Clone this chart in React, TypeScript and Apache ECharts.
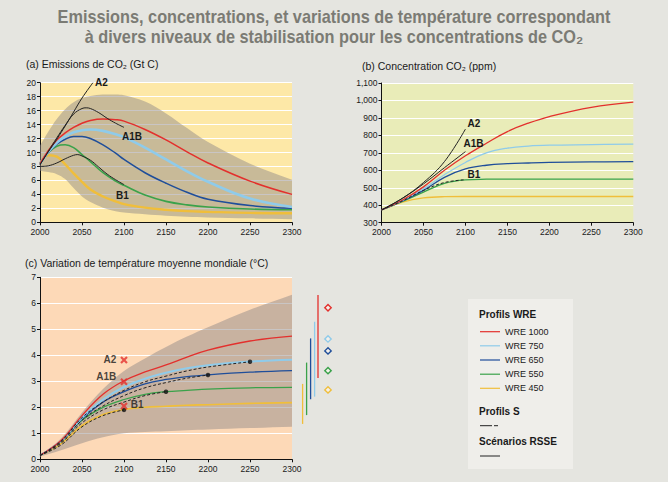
import React, { useEffect, useRef } from "react";
import * as echarts from "echarts";

// ---------- shared ----------
const wreNames = ["WRE 1000", "WRE 750", "WRE 650", "WRE 550", "WRE 450"];
const wreColors = ["#e3302d", "#8fcbea", "#1f4e9a", "#3aa24a", "#f0be3a"];

// ---------- (a) Emissions de CO2 (Gt C) ----------
const yearsA = [2000, 2010, 2020, 2030, 2040, 2050, 2060, 2075, 2090, 2100, 2125, 2150, 2175, 2200, 2250, 2300];
const emisWre1000 = [8.4, 10.3, 11.8, 12.8, 13.6, 14.2, 14.6, 14.8, 14.7, 14.5, 13.3, 11.8, 10.1, 8.5, 5.9, 4.0];
const emisWre750 = [8.4, 10.1, 11.4, 12.3, 12.9, 13.2, 13.3, 13.1, 12.6, 12.2, 10.7, 9.0, 7.3, 5.8, 3.4, 2.2];
const emisWre650 = [8.4, 10.0, 11.2, 11.9, 12.3, 12.3, 12.0, 11.1, 9.9, 9.0, 7.1, 5.6, 4.3, 3.3, 2.4, 2.0];
const emisWre550 = [8.4, 10.0, 10.9, 11.1, 10.7, 9.7, 8.7, 7.1, 5.9, 5.3, 3.9, 3.0, 2.5, 2.2, 1.9, 1.8];
const emisWre450 = [8.4, 9.6, 9.4, 8.3, 7.0, 5.8, 4.7, 3.7, 3.0, 2.6, 2.1, 1.8, 1.6, 1.5, 1.35, 1.3];
const emisUpper = [11.0, 13.0, 14.8, 16.2, 17.2, 17.8, 18.1, 18.3, 18.3, 18.2, 17.3, 15.6, 13.5, 11.5, 8.4, 6.1];
const emisLower = [7.4, 7.2, 6.9, 6.2, 4.9, 3.7, 2.9, 2.1, 1.6, 1.4, 1.15, 0.95, 0.8, 0.7, 0.57, 0.45];

const emisA2Years = [2000, 2010, 2020, 2030, 2040, 2050, 2063];
const emisA2 = [8.3, 10.1, 11.9, 13.8, 15.8, 17.8, 20.0];
const emisA1BYears = [2000, 2010, 2020, 2030, 2040, 2050, 2055, 2060, 2070, 2080, 2090, 2100];
const emisA1B = [8.2, 10.2, 12.1, 13.9, 15.5, 16.3, 16.4, 16.3, 15.7, 14.9, 14.2, 13.6];
const emisB1Years = [2000, 2010, 2020, 2030, 2040, 2045, 2050, 2060, 2070, 2080, 2090, 2100];
const emisB1 = [8.0, 8.1, 8.5, 9.1, 9.6, 9.7, 9.5, 8.9, 7.9, 6.9, 6.1, 5.4];

// ---------- (b) Concentration CO2 (ppm) ----------
const yearsB = [2000, 2025, 2050, 2075, 2100, 2125, 2150, 2175, 2200, 2250, 2300];
const concWre1000 = [373, 430, 505, 600, 683, 755, 822, 870, 908, 961, 990];
const concWre750 = [373, 428, 495, 575, 645, 700, 727, 739, 744, 747, 750];
const concWre650 = [373, 425, 485, 560, 608, 629, 638, 642, 645, 648, 650];
const concWre550 = [373, 422, 475, 525, 545, 549, 550, 550, 550, 550, 550];
const concWre450 = [373, 418, 442, 449, 450, 450, 450, 450, 450, 450, 450];
const sresYearsB = [2000, 2025, 2050, 2075, 2100];
const concA2 = [373, 440, 530, 650, 836];
const concA1B = [373, 440, 522, 615, 707];
const concB1 = [373, 425, 485, 530, 546];

// ---------- (c) Variation de température moyenne mondiale (°C) ----------
const yearsC = [2000, 2025, 2050, 2075, 2100, 2125, 2150, 2175, 2200, 2250, 2300];
const tempWre1000 = [0.15, 0.72, 1.68, 2.5, 3.02, 3.36, 3.63, 3.93, 4.2, 4.55, 4.74];
const tempWre750 = [0.15, 0.7, 1.6, 2.3, 2.78, 3.1, 3.33, 3.5, 3.62, 3.76, 3.83];
const tempWre650 = [0.15, 0.7, 1.55, 2.2, 2.6, 2.9, 3.07, 3.18, 3.25, 3.35, 3.41];
const tempWre550 = [0.15, 0.68, 1.5, 2.0, 2.3, 2.5, 2.6, 2.65, 2.7, 2.75, 2.77];
const tempWre450 = [0.15, 0.6, 1.3, 1.72, 1.92, 2.0, 2.04, 2.08, 2.1, 2.15, 2.18];
const tempUpper = [0.15, 0.8, 1.8, 2.7, 3.4, 3.88, 4.32, 4.72, 5.08, 5.75, 6.33];
const tempLower = [0.1, 0.35, 0.62, 0.85, 1.0, 1.05, 1.08, 1.12, 1.15, 1.2, 1.25];

const tempS450 = [0.15, 0.55, 1.25, 1.68, 1.9];
const tempS550 = [0.15, 0.62, 1.4, 1.9, 2.2, 2.45, 2.6];
const tempS650 = [0.15, 0.66, 1.5, 2.05, 2.45, 2.75, 2.95, 3.12, 3.24];
const tempS750 = [0.15, 0.7, 1.6, 2.2, 2.65, 2.98, 3.2, 3.4, 3.55, 3.75];
const sDotYears = [2100, 2150, 2200, 2250];
const sDotValues = [1.9, 2.6, 3.24, 3.75];

const sresNames = ["A2", "A1B", "B1"];
const sresYear = 2100;
const sresTemp2100 = [3.82, 2.98, 2.05];

// equilibrium ranges (order: WRE 1000, 750, 650, 550, 450)
const eqLow = [3.13, 2.41, 2.31, 1.7, 1.36];
const eqHigh = [6.32, 5.29, 4.65, 3.72, 2.9];
const eqBest = [5.83, 4.63, 4.17, 3.41, 2.67];

const pairs = (xs: number[], ys: number[]) => xs.map((x, i) => [x, ys[i]]);

const FONT = "'Liberation Sans', Arial, Helvetica, sans-serif";
const BAND = "rgba(147,139,137,0.5)";

function xAxis(gridIndex: number) {
  return {
    type: "value",
    gridIndex,
    min: 2000,
    max: 2300,
    interval: 50,
    axisLine: { show: true, onZero: false, lineStyle: { color: "#111", width: 1 } },
    axisTick: { show: true, length: 3, lineStyle: { color: "#111" } },
    axisLabel: { fontSize: 8.5, color: "#1a1a1a", margin: 5, fontFamily: FONT, formatter: (v: number) => String(v) },
    splitLine: { show: false },
  };
}

function yAxis(gridIndex: number, min: number, max: number, interval: number, fmt?: (v: number) => string) {
  return {
    type: "value",
    gridIndex,
    min,
    max,
    interval,
    axisLine: { show: true, lineStyle: { color: "#111", width: 1 } },
    axisTick: { show: true, length: 3, lineStyle: { color: "#111" } },
    axisLabel: { fontSize: 8.5, color: "#1a1a1a", margin: 4, fontFamily: FONT, formatter: fmt || ((v: number) => String(v)) },
    splitLine: { show: true, lineStyle: { color: "#ffffff", width: 1 } },
  };
}

function line(idx: number, data: any[], color: string, width: number, extra: any = {}) {
  return {
    type: "line",
    xAxisIndex: idx,
    yAxisIndex: idx,
    data,
    smooth: 0.4,
    symbol: "none",
    silent: true,
    lineStyle: { color, width },
    ...extra,
  };
}

// uncertainty band drawn as a smoothed polygon through the axis scales
function band(idx: number, xs: number[], lower: number[], upper: number[]) {
  return {
    type: "custom",
    xAxisIndex: idx,
    yAxisIndex: idx,
    silent: true,
    clip: true,
    z: 1,
    data: [[xs[0], lower[0], upper[0]]],
    renderItem: (params: any, api: any) => {
      const up = xs.map((x, i) => api.coord([x, upper[i]]));
      const lo = xs.map((x, i) => api.coord([x, lower[i]])).reverse();
      const pts: number[][] = [];
      up.forEach((p, i) => {
        pts.push(p);
        if (i === 0 || i === up.length - 1) pts.push(p);
      });
      lo.forEach((p, i) => {
        pts.push(p);
        if (i === 0 || i === lo.length - 1) pts.push(p);
      });
      return {
        type: "polygon",
        shape: { points: pts, smooth: 0.35 },
        style: { fill: BAND },
      };
    },
  };
}

const labelStyle = { fontSize: 10, fontWeight: "bold", color: "#1a1a1a", fontFamily: FONT };

function endLabel(text: string, offset: number[]) {
  return {
    endLabel: {
      show: true,
      formatter: text,
      distance: 0,
      offset,
      ...labelStyle,
    },
  };
}

function txt(x: number, y: number, text: string, size: number, opts: any = {}) {
  return {
    type: "text",
    x,
    y,
    scaleX: opts.scaleX || 1,
    silent: true,
    style: {
      text,
      x: 0,
      y: 0,
      fontSize: size,
      fontFamily: opts.family || FONT,
      fontWeight: opts.weight || "normal",
      fill: opts.fill || "#1a1a1a",
      textAlign: opts.align || "left",
      align: opts.align || "left",
      textVerticalAlign: "middle",
      verticalAlign: "middle",
    },
  };
}

export default function App() {
  const ref = useRef<HTMLDivElement>(null);

  useEffect(() => {
    document.body.style.margin = "0";
    if (!ref.current) return;
    const chart = echarts.init(ref.current, undefined, { renderer: "svg" });

    const wreEm = [emisWre1000, emisWre750, emisWre650, emisWre550, emisWre450];
    const wreConc = [concWre1000, concWre750, concWre650, concWre550, concWre450];
    const wreTemp = [tempWre1000, tempWre750, tempWre650, tempWre550, tempWre450];
    const widthsA = [1.5, 2.6, 1.5, 1.6, 2.4];
    const widthsC = [1.3, 2.0, 1.3, 1.3, 1.6];
    const order = [4, 3, 2, 1, 0];

    const series: any[] = [];
    // (a)
    series.push(band(0, yearsA, emisLower, emisUpper));
    order.forEach((k) => series.push(line(0, pairs(yearsA, wreEm[k]), wreColors[k], widthsA[k], { name: wreNames[k] })));
    series.push(line(0, pairs(emisA2Years, emisA2), "#222", 1, endLabel("A2", [2, 0])));
    series.push(line(0, pairs(emisA1BYears, emisA1B), "#222", 1, endLabel("A1B", [-2, 9])));
    series.push(line(0, pairs(emisB1Years, emisB1), "#222", 1, endLabel("B1", [-8, 11])));

    // (b)
    order.forEach((k) => series.push(line(1, pairs(yearsB, wreConc[k]), wreColors[k], 1.3, { name: wreNames[k] })));
    series.push(line(1, pairs(sresYearsB, concA2), "#222", 1, endLabel("A2", [2, -6])));
    series.push(line(1, pairs(sresYearsB, concA1B), "#222", 1, endLabel("A1B", [-2, -8])));
    series.push(line(1, pairs(sresYearsB, concB1), "#222", 1, { ...endLabel("B1", [2, -5]), lineStyle: { color: "#222", width: 1, type: [3, 2] } }));

    // (c)
    series.push(band(2, yearsC, tempLower, tempUpper));
    order.forEach((k) => series.push(line(2, pairs(yearsC, wreTemp[k]), wreColors[k], widthsC[k], { name: wreNames[k] })));
    const dashed = { lineStyle: { color: "#222", width: 1, type: [3, 2] } };
    series.push(line(2, pairs(yearsC.slice(0, tempS450.length), tempS450), "#222", 1, dashed));
    series.push(line(2, pairs(yearsC.slice(0, tempS550.length), tempS550), "#222", 1, dashed));
    series.push(line(2, pairs(yearsC.slice(0, tempS650.length), tempS650), "#222", 1, dashed));
    series.push(line(2, pairs(yearsC.slice(0, tempS750.length), tempS750), "#222", 1, dashed));
    series.push({
      type: "scatter",
      xAxisIndex: 2,
      yAxisIndex: 2,
      silent: true,
      symbol: "circle",
      symbolSize: 4.5,
      itemStyle: { color: "#111" },
      data: pairs(sDotYears, sDotValues),
      z: 5,
    });
    const labelPos = [
      { position: "left", distance: 4, offset: [0, 0] },
      { position: "left", distance: 4, offset: [0, -5] },
      { position: "right", distance: 3, offset: [0, -2] },
    ];
    series.push({
      type: "scatter",
      xAxisIndex: 2,
      yAxisIndex: 2,
      silent: true,
      symbol: "path://M2,0 L5,3 L8,0 L10,2 L7,5 L10,8 L8,10 L5,7 L2,10 L0,8 L3,5 L0,2 Z",
      symbolSize: 7.5,
      itemStyle: { color: "#e3302d" },
      z: 6,
      data: sresNames.map((n, i) => ({
        value: [sresYear, sresTemp2100[i]],
        name: n,
        label: { show: true, formatter: n, ...labelPos[i], ...labelStyle },
      })),
    });
    const barOffsets = [26, 22.6, 18.6, 14.6, 10.6];
    const diamondOffset = 36;
    series.push({
      type: "custom",
      xAxisIndex: 2,
      yAxisIndex: 2,
      silent: true,
      clip: false,
      data: eqLow.map((lo, i) => [i, lo, eqHigh[i], eqBest[i]]),
      renderItem: (params: any, api: any) => {
        const i = api.value(0);
        const pLo = api.coord([2300, api.value(1)]);
        const pHi = api.coord([2300, api.value(2)]);
        const pB = api.coord([2300, api.value(3)]);
        const x = pLo[0] + barOffsets[i];
        const dx = pB[0] + diamondOffset;
        const dy = pB[1];
        const s = 3.2;
        return {
          type: "group",
          children: [
            {
              type: "line",
              shape: { x1: x, y1: pLo[1], x2: x, y2: pHi[1] },
              style: { stroke: wreColors[i], lineWidth: 1.3 },
            },
            {
              type: "polygon",
              shape: { points: [[dx, dy - s], [dx + s, dy], [dx, dy + s], [dx - s, dy]] },
              style: { fill: "#f4f0ea", stroke: wreColors[i], lineWidth: 1.4 },
            },
          ],
        };
      },
    });

    const legendY = [331.7, 345.8, 360, 374.2, 388.3];
    const titleFont = { weight: "bold", fill: "#7b7b74", align: "center", scaleX: 0.905 };
    const graphic: any[] = [
      txt(334, 17, "Emissions, concentrations, et variations de température correspondant", 18, titleFont),
      txt(334, 37, "à divers niveaux de stabilisation pour les concentrations de CO₂", 18, titleFont),
      txt(26, 64, "(a) Emissions de CO₂ (Gt C)", 10.5),
      txt(362, 66, "(b) Concentration CO₂ (ppm)", 10.5),
      txt(25, 263, "(c) Variation de température moyenne mondiale (°C)", 10.5),
      {
        type: "rect",
        silent: true,
        shape: { x: 468, y: 299, width: 105, height: 170 },
        style: { fill: "#efeeea" },
      },
      txt(479, 314.3, "Profils WRE", 10, { weight: "bold" }),
      ...wreNames.map((n, i) => txt(505, legendY[i], n, 9)),
      ...wreNames.map((n, i) => ({
        type: "line",
        silent: true,
        shape: { x1: 480, y1: legendY[i], x2: 500, y2: legendY[i] },
        style: { stroke: wreColors[i], lineWidth: 1.2 },
      })),
      txt(479, 411.7, "Profils S", 10, { weight: "bold" }),
      {
        type: "line",
        silent: true,
        shape: { x1: 480, y1: 425.7, x2: 500, y2: 425.7 },
        style: { stroke: "#222", lineWidth: 1, lineDash: [12, 2, 4, 2] },
      },
      txt(479, 441.7, "Scénarios RSSE", 10, { weight: "bold" }),
      {
        type: "line",
        silent: true,
        shape: { x1: 480, y1: 456, x2: 500, y2: 456 },
        style: { stroke: "#222", lineWidth: 1 },
      },
    ];

    chart.setOption({
      animation: false,
      backgroundColor: "#e5e5e0",
      textStyle: { fontFamily: FONT },
      grid: [
        { left: 40, top: 82.7, width: 252, height: 139.6, show: true, backgroundColor: "#fde8a7", borderWidth: 0 },
        { left: 381.5, top: 83, width: 251.8, height: 139.7, show: true, backgroundColor: "#e9ecb8", borderWidth: 0 },
        { left: 40, top: 277.3, width: 252, height: 182, show: true, backgroundColor: "#fdd9b7", borderWidth: 0 },
      ],
      xAxis: [xAxis(0), xAxis(1), xAxis(2)],
      yAxis: [
        yAxis(0, 0, 20, 2),
        yAxis(1, 300, 1100, 100, (v: number) => (v >= 1000 ? Math.floor(v / 1000) + "," + String(v % 1000).padStart(3, "0") : String(v))),
        yAxis(2, 0, 7, 1),
      ],
      series,
      graphic,
    });

    return () => chart.dispose();
  }, []);

  return <div ref={ref} style={{ width: 668, height: 482 }} />;
}
